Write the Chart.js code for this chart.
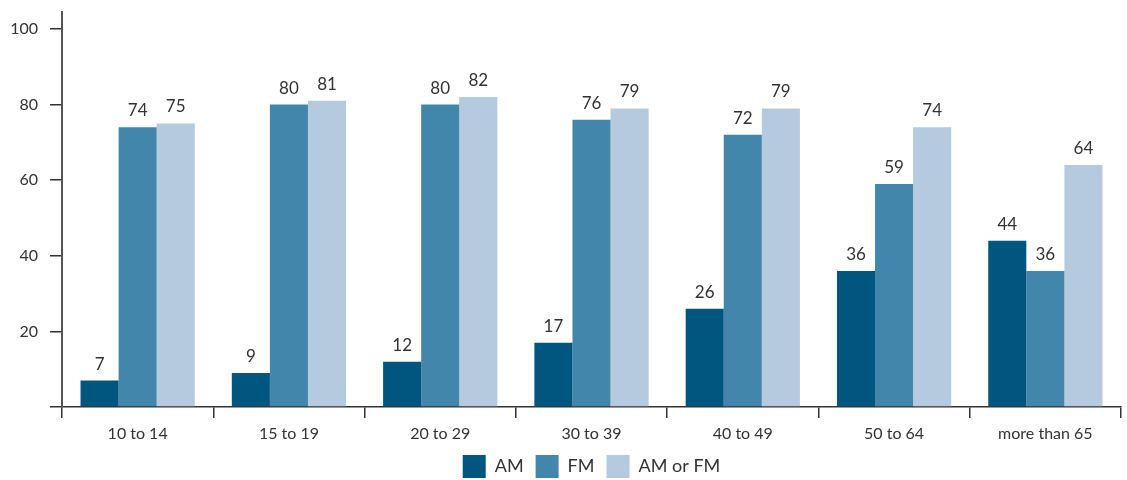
<!DOCTYPE html>
<html>
<head>
<meta charset="utf-8">
<script src="https://cdn.jsdelivr.net/npm/chart.js@4/dist/chart.umd.min.js"></script>
<style>
  html, body { margin: 0; padding: 0; background: #fff; }
  #wrap { width: 1127px; height: 480px; }
</style>
</head>
<body>
<div id="wrap"><canvas id="chart"></canvas></div>
<script>
// -----------------------------
// DATA
// -----------------------------
const ageGroups = ["10 to 14", "15 to 19", "20 to 29", "30 to 39", "40 to 49", "50 to 64", "more than 65"];
const amValues = [7, 9, 12, 17, 26, 36, 44];
const fmValues = [74, 80, 80, 76, 72, 59, 36];
const amOrFmValues = [75, 81, 82, 79, 79, 74, 64];
const yTickValues = [0, 20, 40, 60, 80, 100];
const seriesNames = ["AM", "FM", "AM or FM"];
const seriesColors = ["#00567F", "#4386AC", "#B5C9DF"];

const FONT = "Lato, 'Open Sans', sans-serif";

// value labels above each bar
const valueLabels = {
    id: "valueLabels",
    afterDatasetsDraw(chart) {
        const ctx = chart.ctx;
        ctx.save();
        ctx.font = "17px " + FONT;
        ctx.fillStyle = "#333";
        ctx.textAlign = "center";
        ctx.textBaseline = "bottom";
        chart.data.datasets.forEach((ds, i) => {
            chart.getDatasetMeta(i).data.forEach((bar, j) => {
                ctx.fillText(ds.data[j], bar.x, bar.y - 8);
            });
        });
        ctx.restore();
    }
};

window.onload = function () {
    const ctx = document.getElementById("chart").getContext("2d");

    new Chart(ctx, {
        type: "bar",
        data: {
            labels: ageGroups,
            datasets: [
                { label: seriesNames[0], data: amValues, backgroundColor: seriesColors[0] },
                { label: seriesNames[1], data: fmValues, backgroundColor: seriesColors[1] },
                { label: seriesNames[2], data: amOrFmValues, backgroundColor: seriesColors[2] }
            ]
        },
        options: {
            responsive: true,
            maintainAspectRatio: false,
            animation: false,
            layout: { padding: { top: 12, right: 6, left: 0, bottom: -8 } },
            datasets: {
                bar: { categoryPercentage: 0.755, barPercentage: 1.0 }
            },
            plugins: {
                tooltip: { enabled: false },
                legend: {
                    position: "bottom",
                    fullSize: false,
                    labels: {
                        boxWidth: 23,
                        boxHeight: 23,
                        padding: 12,
                        color: "#333",
                        font: { family: FONT, size: 18 }
                    }
                }
            },
            scales: {
                x: {
                    afterFit(scale) { scale.height = 36; },
                    border: { display: true, color: "#333", width: 1.5 },
                    grid: {
                        offset: true,
                        drawOnChartArea: false,
                        drawTicks: true,
                        tickLength: 11,
                        color: "#333",
                        lineWidth: 1.5
                    },
                    ticks: {
                        padding: 6,
                        color: "#333",
                        font: { family: FONT, size: 16 }
                    }
                },
                y: {
                    min: 0,
                    max: 104.5,
                    afterFit(scale) {
                        scale.width = 62;
                        scale.paddingTop = 0;
                        scale.paddingBottom = 0;
                    },
                    afterBuildTicks(scale) {
                        scale.ticks = yTickValues.map(v => ({ value: v }));
                    },
                    border: { display: true, color: "#555", width: 2 },
                    grid: {
                        drawOnChartArea: false,
                        drawTicks: true,
                        tickLength: 12,
                        color: "#333",
                        lineWidth: 1.5
                    },
                    ticks: {
                        padding: 12,
                        color: "#333",
                        font: { family: FONT, size: 16 },
                        callback: v => (v === 0 ? "" : v)
                    }
                }
            }
        },
        plugins: [valueLabels]
    });
};
</script>
</body>
</html>
